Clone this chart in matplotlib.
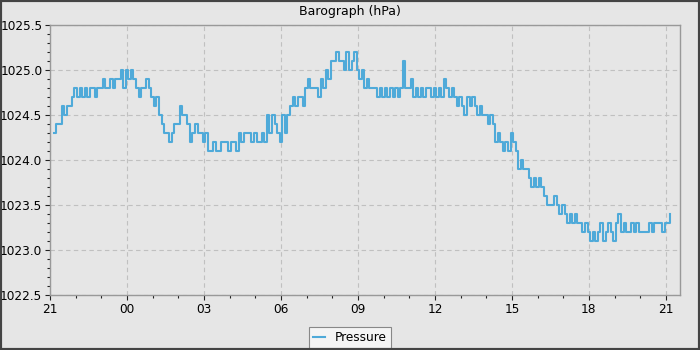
'''
	Barograph plot: pressure over one day, sampled every 6 minutes.
'''
## Library Imports
import numpy as np
import pandas as pd
import matplotlib
matplotlib.use('Agg')
import matplotlib.pyplot as plt
import matplotlib.dates as mdates
from matplotlib.patches import Rectangle

## Data (hPa), one reading every 6 minutes starting 21:09
start_time = '2024-01-01 21:09'
sample_step = '6min'
pressure_hpa = [
	1024.3, 1024.4, 1024.4, 1024.6, 1024.5, 1024.6, 1024.6, 1024.7, 1024.8, 1024.7,
	1024.8, 1024.7, 1024.8, 1024.7, 1024.8, 1024.8, 1024.7, 1024.8, 1024.8, 1024.9,
	1024.8, 1024.8, 1024.9, 1024.8, 1024.9, 1024.9, 1025.0, 1024.8, 1025.0, 1024.9,
	1025.0, 1024.9, 1024.8, 1024.7, 1024.8, 1024.8, 1024.9, 1024.8, 1024.7, 1024.6,
	1024.7, 1024.5, 1024.4, 1024.3, 1024.3, 1024.2, 1024.3, 1024.4, 1024.4, 1024.6,
	1024.5, 1024.5, 1024.4, 1024.2, 1024.3, 1024.4, 1024.3, 1024.3, 1024.2, 1024.3,
	1024.1, 1024.1, 1024.2, 1024.1, 1024.1, 1024.2, 1024.2, 1024.2, 1024.1, 1024.2,
	1024.2, 1024.1, 1024.3, 1024.2, 1024.3, 1024.3, 1024.3, 1024.2, 1024.3, 1024.2,
	1024.2, 1024.3, 1024.2, 1024.5, 1024.3, 1024.5, 1024.4, 1024.3, 1024.2, 1024.5,
	1024.3, 1024.5, 1024.6, 1024.7, 1024.6, 1024.7, 1024.7, 1024.6, 1024.8, 1024.9,
	1024.8, 1024.8, 1024.8, 1024.7, 1024.9, 1024.8, 1025.0, 1024.9, 1025.1, 1025.1,
	1025.2, 1025.1, 1025.1, 1025.0, 1025.2, 1025.0, 1025.1, 1025.2, 1025.0, 1024.9,
	1025.0, 1024.8, 1024.9, 1024.8, 1024.8, 1024.8, 1024.7, 1024.8, 1024.7, 1024.8,
	1024.7, 1024.8, 1024.7, 1024.8, 1024.7, 1024.8, 1025.1, 1024.8, 1024.8, 1024.9,
	1024.7, 1024.8, 1024.7, 1024.8, 1024.7, 1024.8, 1024.8, 1024.7, 1024.8, 1024.7,
	1024.8, 1024.7, 1024.9, 1024.8, 1024.7, 1024.8, 1024.7, 1024.6, 1024.7, 1024.6,
	1024.5, 1024.7, 1024.6, 1024.7, 1024.6, 1024.5, 1024.6, 1024.5, 1024.5, 1024.4,
	1024.5, 1024.4, 1024.2, 1024.3, 1024.2, 1024.1, 1024.2, 1024.1, 1024.3, 1024.2,
	1024.1, 1023.9, 1024.0, 1023.9, 1023.9, 1023.8, 1023.7, 1023.8, 1023.7, 1023.8,
	1023.7, 1023.6, 1023.5, 1023.5, 1023.5, 1023.6, 1023.5, 1023.4, 1023.5, 1023.4,
	1023.3, 1023.4, 1023.3, 1023.4, 1023.3, 1023.3, 1023.2, 1023.3, 1023.2, 1023.1,
	1023.2, 1023.1, 1023.2, 1023.3, 1023.1, 1023.2, 1023.3, 1023.2, 1023.1, 1023.3,
	1023.4, 1023.2, 1023.3, 1023.2, 1023.2, 1023.3, 1023.2, 1023.3, 1023.2, 1023.2,
	1023.2, 1023.2, 1023.3, 1023.2, 1023.3, 1023.3, 1023.3, 1023.2, 1023.3, 1023.3,
	1023.4,
]
x_start = '2024-01-01 21:00'
x_end = '2024-01-02 21:33'
y_range = (1022.5, 1025.5)

times = pd.date_range(start_time, periods=len(pressure_hpa), freq=sample_step)

## Figure
bg_col = '#e6e6e6'
line_col = '#4faad9'
fig = plt.figure(figsize=(7, 3.5), dpi=100, facecolor=bg_col)
ax = fig.add_axes([50/700, 55/350, 630/700, 270/350], facecolor=bg_col)

ax.plot(times, pressure_hpa, color=line_col, lw=1.5, drawstyle='steps-post', label='Pressure')

ax.set_xlim(pd.Timestamp(x_start), pd.Timestamp(x_end))
ax.set_ylim(*y_range)
ax.xaxis.set_major_locator(mdates.HourLocator(byhour=range(0, 24, 3)))
ax.xaxis.set_minor_locator(mdates.HourLocator())
ax.xaxis.set_major_formatter(mdates.DateFormatter('%H'))
ax.yaxis.set_major_locator(plt.MultipleLocator(0.5))
ax.yaxis.set_minor_locator(plt.MultipleLocator(0.1))
ax.yaxis.set_major_formatter(plt.FormatStrFormatter('%.1f'))

ax.tick_params(which='major', length=3.5, width=0.8, color='#222222', labelsize=8.7, pad=2)
ax.tick_params(which='minor', length=2.2, width=0.8, color='#222222')
ax.grid(True, which='major', color='#c0c0c0', ls=(0, (4, 3)), lw=0.8)
for s in ax.spines.values():
	s.set_color('#999999')
	s.set_linewidth(1.0)

fig.text(0.5, 1 - 12/350, 'Barograph (hPa)', ha='center', va='center', fontsize=9)

leg = fig.legend(loc='lower center', bbox_to_anchor=(0.5, -0.012), fontsize=8.7,
	fancybox=False, framealpha=1, edgecolor='#888888', handlelength=1.0,
	borderpad=0.35, handletextpad=0.8)
leg.get_frame().set_facecolor('#f4f4f4')
leg.get_frame().set_linewidth(0.8)

## dark outer border
fig.patches.append(Rectangle((0, 0), 1, 1, transform=fig.transFigure, fill=False,
	edgecolor='#444444', lw=3.0, zorder=10))

fig.savefig('out.png', dpi=100, facecolor=bg_col)
